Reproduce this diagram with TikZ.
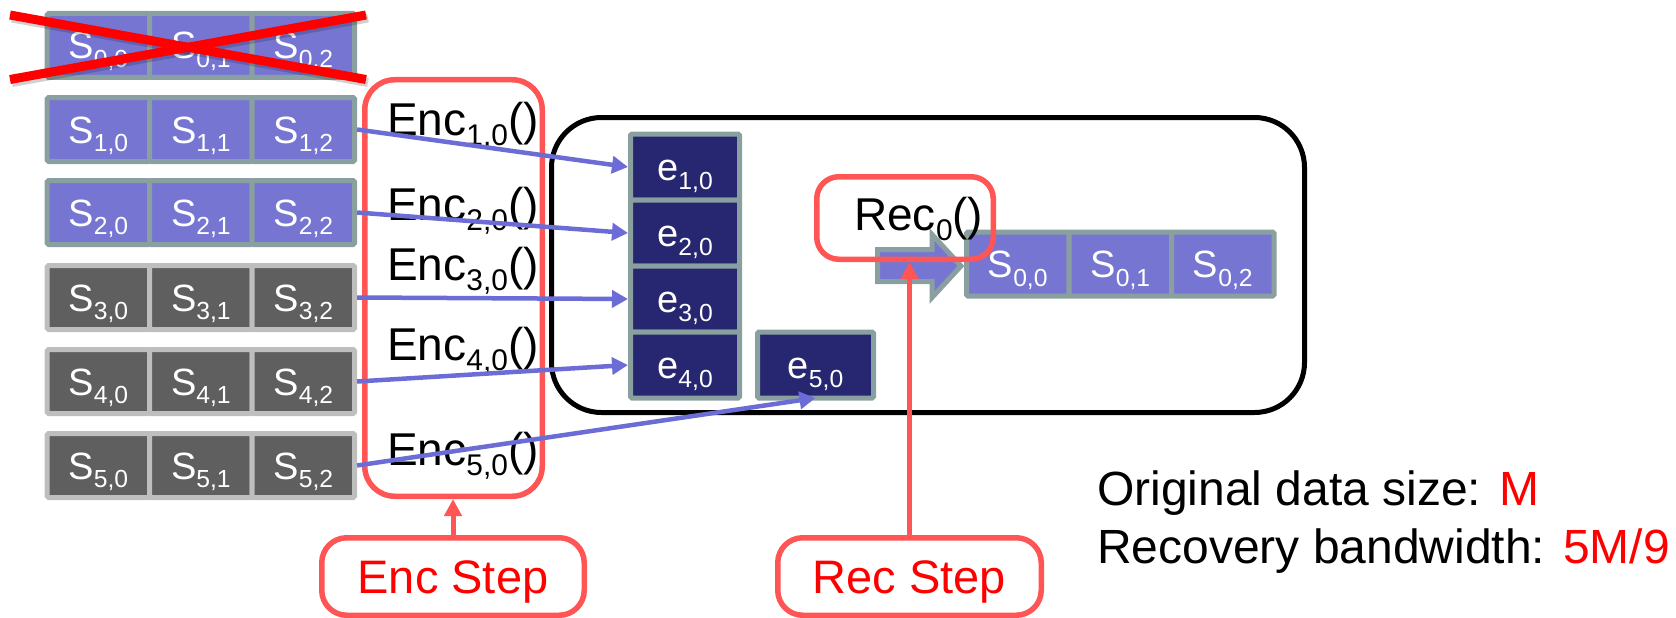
\documentclass[tikz,border=0pt]{standalone}
\usepackage{fontspec}
\setmainfont{Liberation Sans}
\usetikzlibrary{arrows.meta}

\definecolor{cellpurple}{RGB}{118,118,210}
\definecolor{celledge}{RGB}{138,160,160}
\definecolor{cellgray}{RGB}{95,95,95}
\definecolor{grayedge}{RGB}{190,190,190}
\definecolor{enavy}{RGB}{39,38,112}
\definecolor{linkpurple}{RGB}{108,108,214}
\definecolor{markred}{RGB}{255,85,85}

% lowered, reduced index text
\newcommand{\ix}[1]{\raisebox{-0.23em}{\scalebox{0.65}{#1}}}

\begin{document}
\begin{tikzpicture}[x=1pt,y=-1pt,
  cell/.style={minimum width=102.5pt, minimum height=64pt, inner sep=0pt,
    line width=5pt, rounded corners=1.5pt, text=white,
    text height=27pt, text depth=0pt, font=\fontsize{38}{40}\selectfont},
  pcell/.style={cell, fill=cellpurple, draw=celledge},
  gcell/.style={cell, fill=cellgray, draw=grayedge},
  ecell/.style={cell, minimum width=109pt, minimum height=66pt,
    fill=enavy, draw=celledge},
  fn/.style={inner sep=0pt, anchor=base west, font=\fontsize{46}{50}\selectfont},
  redbox/.style={draw=markred, line width=5.5pt, inner sep=0pt},
  steplabel/.style={redbox, rounded corners=25pt, text=red,
    text height=34pt, text depth=0pt, font=\fontsize{47}{50}\selectfont},
  link/.style={draw=linkpurple, line width=4.5pt,
    -{Triangle[length=16pt,width=17pt]}},
  callout/.style={draw=markred, line width=5pt,
    -{Triangle[length=17pt,width=17pt]}},
  info/.style={inner sep=0pt, anchor=base west, font=\fontsize{48}{52}\selectfont}
]
\useasboundingbox (0,0) rectangle (1676,618);

% storage site that rebuilds the lost row
\node[draw, line width=5pt, rounded corners=50pt, inner sep=0pt,
  minimum width=753pt, minimum height=295pt] (site) at (928,265) {};

% source rows S_{r,c}
\foreach \r/\y/\sty in {0/45.5/pcell,1/129.5/pcell,2/212.5/pcell,
                        3/297.5/gcell,4/381.5/gcell,5/465.5/gcell} {
  \foreach \c/\x in {0/98.35,1/200.85,2/303.35} {
    \node[\sty] (s\r\c) at (\x,\y) {S\ix{\r,\c}};
  }
}

% lost row crossed out
\draw[black, opacity=0.18, line width=9pt] (12,18) -- (368,82.5);
\draw[black, opacity=0.18, line width=9pt] (12,82.5) -- (368,18);
\draw[red, line width=9pt] (10,15) -- (366,79.5);
\draw[red, line width=9pt] (10,79.5) -- (366,15);

% encoding functions
\node[redbox, rounded corners=30pt, minimum width=177.5pt,
  minimum height=416.5pt] (encbox) at (453.5,288) {};
\node[fn] (enc1) at (387,135) {Enc\ix{1,0}()};
\node[fn] (enc2) at (387,220) {Enc\ix{2,0}()};
\node[fn] (enc3) at (387,280) {Enc\ix{3,0}()};
\node[fn] (enc4) at (387,360) {Enc\ix{4,0}()};
\node[fn] (enc5) at (387,465) {Enc\ix{5,0}()};

% encoded pieces
\node[ecell] (e1) at (685,167) {e\ix{1,0}};
\node[ecell] (e2) at (685,233) {e\ix{2,0}};
\node[ecell] (e3) at (685,299) {e\ix{3,0}};
\node[ecell] (e4) at (685,365) {e\ix{4,0}};
\node[ecell, minimum width=116pt] (e5) at (815.5,365) {e\ix{5,0}};

% recovered row
\node[pcell] (t0) at (1017.75,264) {S\ix{0,0}};
\node[pcell] (t1) at (1120.25,264) {S\ix{0,1}};
\node[pcell] (t2) at (1222.75,264) {S\ix{0,2}};

% block arrow into the recovered row
\draw[fill=cellpurple, draw=celledge, line width=5pt, line join=miter]
  (877.5,249.5) -- (932,249.5) -- (932,234.5) -- (961,266)
  -- (932,297.5) -- (932,281.5) -- (877.5,281.5) -- cycle;

% recovery function
\node[redbox, rounded corners=22pt, minimum width=176.5pt,
  minimum height=82.5pt] (recbox) at (905,218) {};
\node[fn] (rec) at (854,230) {Rec\ix{0}()};

% transfers
\draw[link] (s12.east) -- (e1.west);
\draw[link] (s22.east) -- (e2.west);
\draw[link] (s32.east) -- (e3.west);
\draw[link] (s42.east) -- (e4.west);
\draw[link] (s52.east) -- ([yshift=2.5pt]e5.south);

% step callouts
\node[steplabel, minimum width=262.5pt, minimum height=77.5pt]
  (encstep) at (453,576.5) {Enc Step};
\node[steplabel, minimum width=263.5pt, minimum height=77.5pt]
  (recstep) at (909.5,576.5) {Rec Step};
\draw[callout] (encstep.north) -- (encstep.north |- encbox.south);
\draw[callout] (recstep.north) -- (recstep.north |- recbox.south);

% summary
\node[info] (size) at (1097,505) {Original data size: \textcolor{red}{M}};
\node[info] (bw) at (1097,563) {Recovery bandwidth: \textcolor{red}{5M/9}};
\end{tikzpicture}
\end{document}
